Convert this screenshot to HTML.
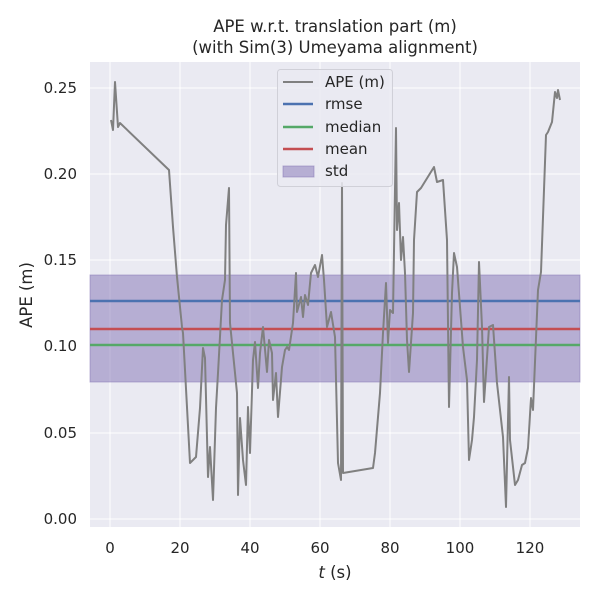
<!DOCTYPE html>
<html><head><style>body{margin:0;background:#fff}svg{display:block}text{font-family:"DejaVu Sans","Liberation Sans",sans-serif;fill:#262626}</style></head>
<body>
<svg width="600" height="600" xmlns="http://www.w3.org/2000/svg">
<rect x="90" y="62" width="490" height="465" fill="#eaeaf2"/>
<g stroke="#fff" stroke-width="1">
<line x1="110" y1="62" x2="110" y2="527"/><line x1="180" y1="62" x2="180" y2="527"/><line x1="250" y1="62" x2="250" y2="527"/><line x1="320" y1="62" x2="320" y2="527"/><line x1="390" y1="62" x2="390" y2="527"/><line x1="460" y1="62" x2="460" y2="527"/><line x1="530" y1="62" x2="530" y2="527"/>
<line x1="90" y1="519" x2="580" y2="519"/><line x1="90" y1="433" x2="580" y2="433"/><line x1="90" y1="346" x2="580" y2="346"/><line x1="90" y1="260" x2="580" y2="260"/><line x1="90" y1="174" x2="580" y2="174"/><line x1="90" y1="88" x2="580" y2="88"/>
</g>
<rect x="90" y="275" width="490" height="107" fill="#8172b3" fill-opacity="0.5" stroke="#8172b3" stroke-opacity="0.5"/>
<line x1="90" y1="301" x2="580" y2="301" stroke="#4c72b0" stroke-width="2.4"/>
<line x1="90" y1="329" x2="580" y2="329" stroke="#c44e52" stroke-width="2.4"/>
<line x1="90" y1="345" x2="580" y2="345" stroke="#55a868" stroke-width="2.4"/>
<polyline fill="none" stroke="#808080" stroke-width="2" stroke-linejoin="round" points="111,120 113,130 115,82 118,127 120,123 169,170 173,227 177,277 182,327 183,333 190,463 196,457 200,408 203,348 205,358 208,477 210,447 213,500 216,408 218,373 222,300 225,280 226,225 229,188 230,323 233,353 237,393 238,495 240,418 243,460 246,485 248,407 250,453 253,360 255,342 258,388 260,353 263,327 267,372 269,340 272,353 273,400 276,373 278,417 282,367 285,350 287,347 289,350 293,323 296,273 297,312 301,297 303,317 305,295 308,305 311,273 315,265 318,277 322,255 324,280 327,327 331,312 335,337 338,463 341,480 342,183 343,473 373,468 375,453 380,393 383,333 386,283 388,343 390,310 393,313 396,128 397,230 399,203 401,260 403,237 405,273 407,340 409,372 413,313 414,240 417,192 421,188 434,167 437,182 443,180 447,240 449,407 452,293 454,253 457,267 463,347 467,380 469,460 472,440 474,417 477,360 479,262 482,327 484,402 486,373 489,327 493,325 497,383 503,437 506,507 509,377 510,440 515,485 518,480 522,465 525,463 528,448 531,398 533,410 538,290 541,272 546,135 548,132 552,122 555,92 557,98 558,90 560,100"/>
<g font-size="15" text-anchor="end">
<text x="77" y="524">0.00</text><text x="77" y="438">0.05</text><text x="77" y="351">0.10</text><text x="77" y="265">0.15</text><text x="77" y="179">0.20</text><text x="77" y="93">0.25</text>
</g>
<g font-size="15" text-anchor="middle">
<text x="110" y="553">0</text><text x="180" y="553">20</text><text x="250" y="553">40</text><text x="320" y="553">60</text><text x="390" y="553">80</text><text x="460" y="553">100</text><text x="530" y="553">120</text>
<text x="335" y="578" font-size="16.5"><tspan font-style="italic">t</tspan> (s)</text>
<text x="335" y="32" font-size="16.5">APE w.r.t. translation part (m)</text>
<text x="335" y="53" font-size="16.5">(with Sim(3) Umeyama alignment)</text>
</g>
<text transform="translate(32,295) rotate(-90)" font-size="16.5" text-anchor="middle">APE (m)</text>
<rect x="277.5" y="69.5" width="115" height="117" rx="3" fill="#eaeaf2" fill-opacity="0.85" stroke="#d0d0d8"/>
<line x1="283" y1="82" x2="313" y2="82" stroke="#808080" stroke-width="2"/>
<line x1="283" y1="104" x2="313" y2="104" stroke="#4c72b0" stroke-width="2.4"/>
<line x1="283" y1="127" x2="313" y2="127" stroke="#55a868" stroke-width="2.4"/>
<line x1="283" y1="149" x2="313" y2="149" stroke="#c44e52" stroke-width="2.4"/>
<rect x="283" y="166" width="31" height="11" fill="#8172b3" fill-opacity="0.5" stroke="#8172b3" stroke-opacity="0.5"/>
<g font-size="15"><text x="325" y="87">APE (m)</text><text x="325" y="109">rmse</text><text x="325" y="132">median</text><text x="325" y="154">mean</text><text x="325" y="176">std</text></g>
</svg>
</body></html>
